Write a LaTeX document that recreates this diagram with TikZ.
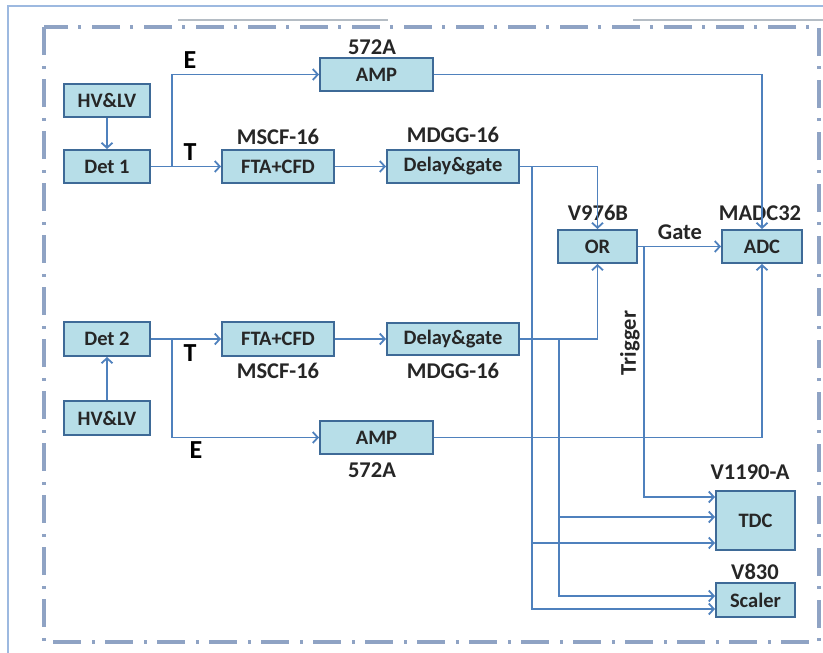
\documentclass[tikz,border=0pt]{standalone}
\usepackage{fontspec}
\setmainfont{Carlito}
\usetikzlibrary{arrows.meta,positioning}
\definecolor{boxfill}{HTML}{B7DEE8}
\definecolor{boxline}{HTML}{3E6A97}
\definecolor{wirec}{HTML}{4F81BD}
\definecolor{framec}{HTML}{8FA3C4}
\definecolor{edgec}{HTML}{9DB9E0}
\definecolor{tabc}{HTML}{B4BCC4}
\definecolor{txt}{HTML}{262626}

\begin{document}
\begin{tikzpicture}[x=1pt,y=-1pt,>={Straight Barb[length=5pt,width=11pt]},
  box/.style={draw=boxline,fill=boxfill,line width=2pt,text=txt,inner sep=0pt,
    font=\bfseries\fontsize{20.5}{22}\selectfont},
  wire/.style={draw=wirec,line width=1.8pt},
  tag/.style={text=txt,font=\bfseries\fontsize{22.5}{25}\selectfont},
  sig/.style={text=black,font=\bfseries\fontsize{26}{28}\selectfont}]
  \useasboundingbox (0,0) rectangle (823,653);
  \draw[edgec,line width=1.5pt] (8,653) -- (8,6) -- (823,6);
  \draw[tabc,line width=2pt] (178,20) -- (388,20);
  \draw[tabc,line width=2pt] (633,20) -- (823,20);
  \draw[framec,line width=3.5pt,dash pattern=on 28pt off 11pt on 3pt off 10pt]
    (44,27) rectangle (819,642);
  \node[box,minimum width=86,minimum height=33] (hvA) at (107,100.5) {HV\&LV};
  \node[box,minimum width=86,minimum height=33] (detA) at (107,166.5) {Det 1};
  \node[box,minimum width=112,minimum height=33] (ftaA) at (278,166.5) {FTA+CFD};
  \node[box,minimum width=113,minimum height=33] (ampA) at (376.5,74.5) {AMP};
  \node[box,minimum width=132,minimum height=33] (dgA) at (453,166.5) {Delay\&gate};
  \node[box,minimum width=79,minimum height=33] (orb) at (597.5,246.5) {OR};
  \node[box,minimum width=80,minimum height=33] (adc) at (762,246.5) {ADC};
  \node[box,minimum width=86,minimum height=34] (detB) at (107,339) {Det 2};
  \node[box,minimum width=86,minimum height=34] (hvB) at (107,418) {HV\&LV};
  \node[box,minimum width=112,minimum height=34] (ftaB) at (278,339) {FTA+CFD};
  \node[box,minimum width=132,minimum height=32] (dgB) at (453,339) {Delay\&gate};
  \node[box,minimum width=113,minimum height=33] (ampB) at (376.5,437.5) {AMP};
  \node[box,minimum width=79,minimum height=59] (tdc) at (755.5,520.5) {TDC};
  \node[box,minimum width=79,minimum height=34] (scaler) at (755.5,600) {Scaler};
  \node[tag] (lampA) at (372,47) {572A};
  \node[tag] (lftaA) at (278,137) {MSCF-16};
  \node[tag] (ldgA) at (453,135) {MDGG-16};
  \node[tag] (lorb) at (598,213) {V976B};
  \node[tag] (ladc) at (760,213) {MADC32};
  \node[tag] (lftaB) at (278,371) {MSCF-16};
  \node[tag] (ldgB) at (453,371) {MDGG-16};
  \node[tag] (lampB) at (372,470) {572A};
  \node[tag] (ltdc) at (750,472) {V1190-A};
  \node[tag] (lscaler) at (755,572) {V830};
  \node[tag] (lgate) at (680,232) {Gate};
  \node[tag,rotate=90] (ltrig) at (630,343) {Trigger};
  \node[sig] (eA) at (190,60) {E};
  \node[sig] (tA) at (190,152) {T};
  \node[sig] (tB) at (190,353) {T};
  \node[sig] (eB) at (196,450) {E};
  \coordinate (tapA) at (172,166.5);
  \coordinate (tapB) at (172,339);
  \coordinate (brA) at (532,166.5);
  \coordinate (brB) at (559,339);
  \coordinate (trg) at (644,246.5);
  \draw[wire,->] (hvA) -- (detA);
  \draw[wire,->] (hvB) -- (detB);
  \draw[wire,->] (detA) -- (ftaA);
  \draw[wire,->] (detB) -- (ftaB);
  \draw[wire,->] (tapA) |- (ampA.west);
  \draw[wire,->] (tapB) |- (ampB.west);
  \draw[wire,->] (ftaA) -- (dgA);
  \draw[wire,->] (ftaB) -- (dgB);
  \draw[wire,->] (dgA.east) -| (orb.north);
  \draw[wire,->] (dgB.east) -| (orb.south);
  \draw[wire,->] (ampA.east) -| (adc.north);
  \draw[wire,->] (ampB.east) -| (adc.south);
  \draw[wire,->] (orb) -- (adc);
  \draw[wire,->] (trg) |- ([yshift=-7pt]tdc.north west);
  \draw[wire,->] (brB) |- ([yshift=-27pt]tdc.north west);
  \draw[wire,->] (brA) |- ([yshift=-53pt]tdc.north west);
  \draw[wire,->] (brB) |- ([yshift=-14pt]scaler.north west);
  \draw[wire,->] (brA) |- ([yshift=-27pt]scaler.north west);
\end{tikzpicture}
\end{document}
